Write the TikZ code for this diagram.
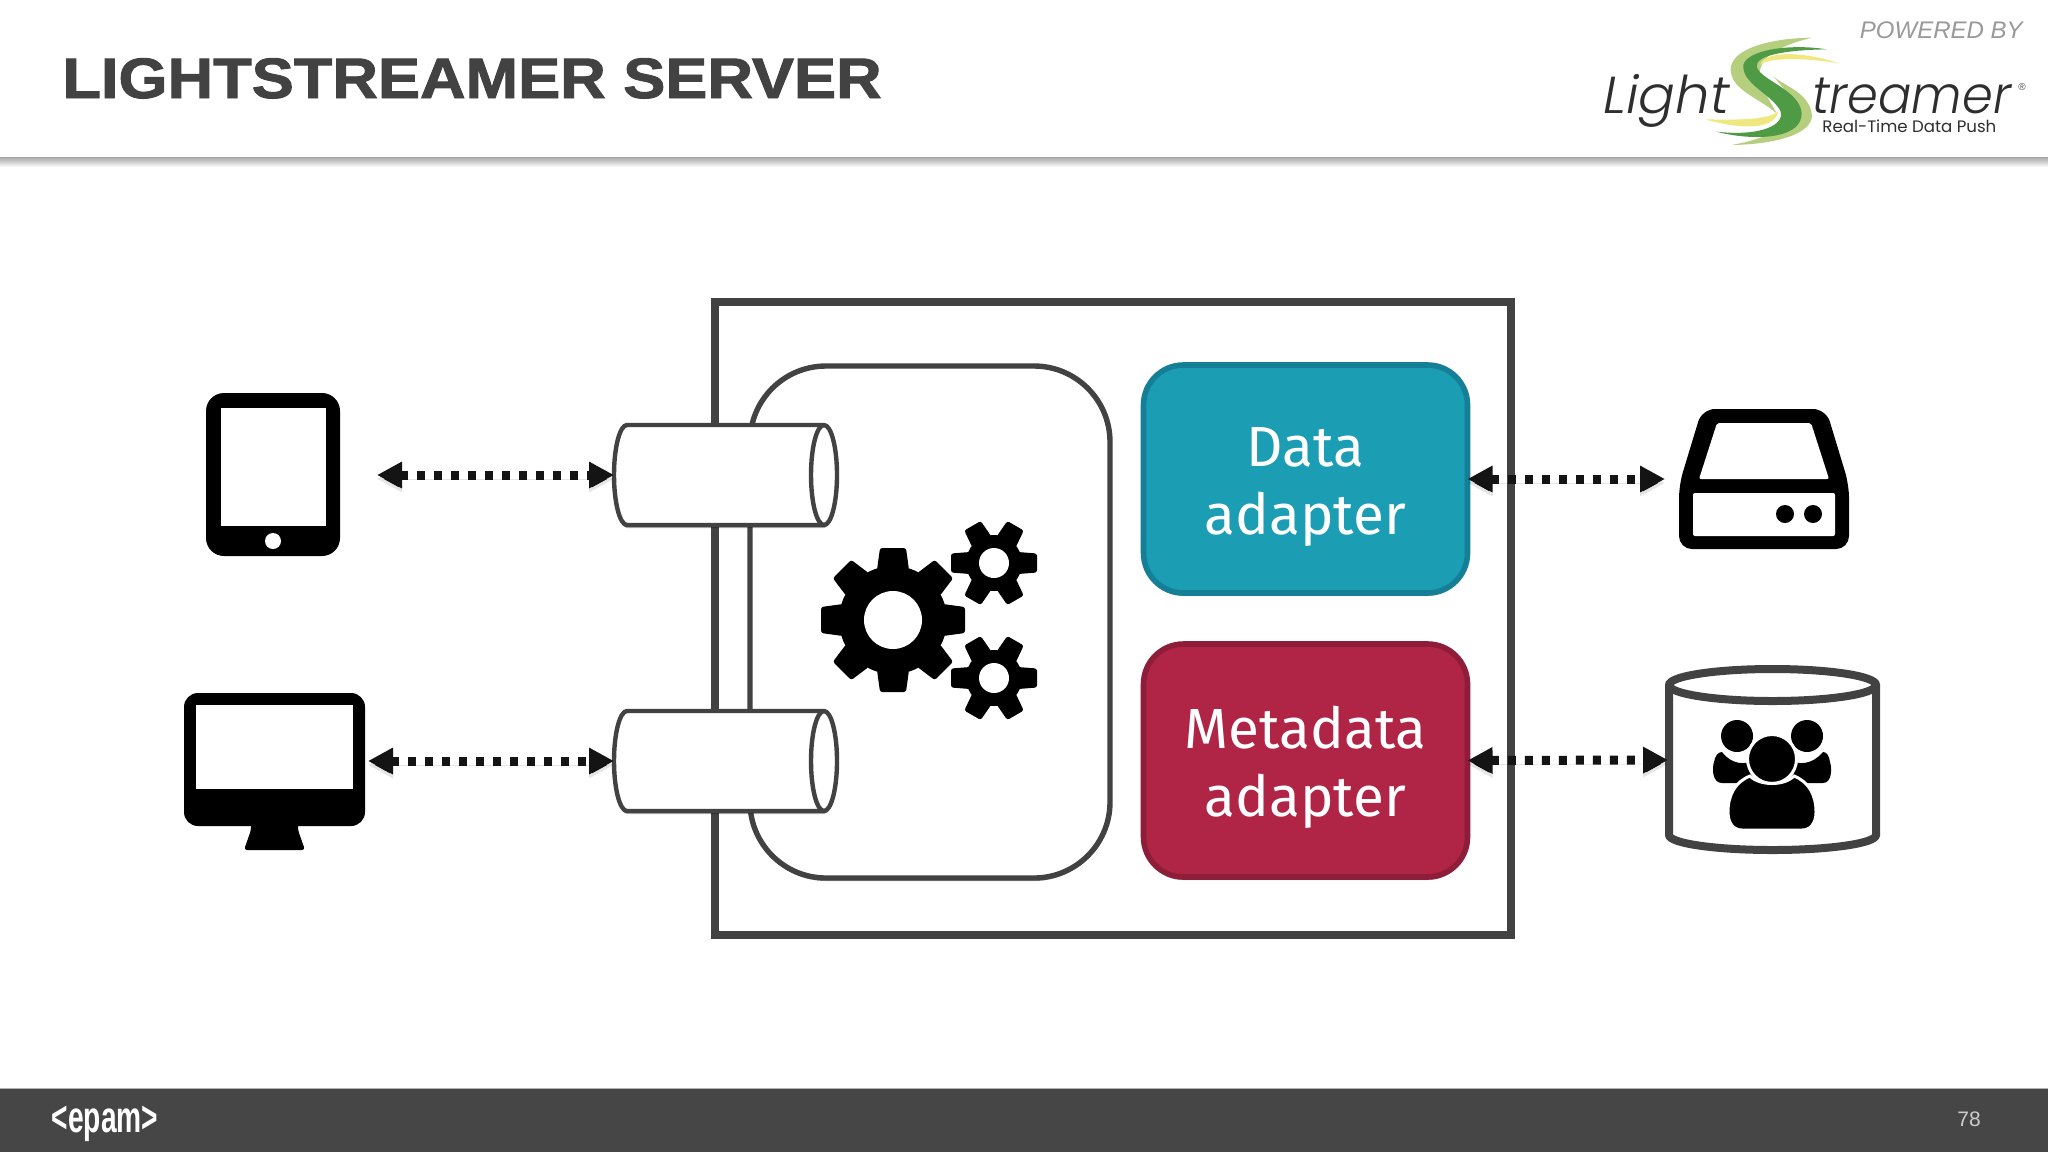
\documentclass[tikz,border=0pt]{standalone}
\usepackage{fontspec}
\setmainfont{Liberation Sans}
\newfontfamily\boxfont{Fira Sans}
\newfontfamily\titlefont{Liberation Sans Bold}[FakeBold=1.6]
\newfontfamily\logofont{Poppins Light}[ItalicFont={Poppins Light Italic}]
\newfontfamily\logosub{Poppins}
\usetikzlibrary{arrows.meta,shapes.geometric,shadows}
\definecolor{inkgrey}{HTML}{424242}
\definecolor{barGrey}{HTML}{464646}
\definecolor{teal}{HTML}{1B9DB4}
\definecolor{tealedge}{HTML}{147F96}
\definecolor{wine}{HTML}{B02445}
\definecolor{wineedge}{HTML}{8E1D3A}
\definecolor{arrowink}{HTML}{141414}
\definecolor{lgreen}{HTML}{B5CF7F}
\definecolor{dgreen}{HTML}{4E9A45}
\definecolor{lyellow}{HTML}{EEE87F}
\newcommand{\boxline}[1]{\smash{\raisebox{-10.8pt}{#1}}}
\tikzset{
  softshadow/.style={drop shadow={shadow xshift=0pt,shadow yshift=-1.5pt,opacity=.3,fill=black}},
  frame/.style={rectangle,draw=inkgrey,fill=white,outer sep=0pt,inner sep=0pt,softshadow},
  adapter/.style={rectangle,rounded corners=20pt,line width=2.8pt,outer sep=0pt,inner sep=0pt,
    minimum width=162pt,text=white,align=center,font=\boxfont\fontsize{28.3}{34}\selectfont,softshadow},
  pipebody/.style={draw=inkgrey,fill=white,line width=2.2pt,line join=round,softshadow},
  link/.style={draw=arrowink,line width=4.5pt,dash pattern=on 4pt off 4.5pt,
    {Triangle[length=12.5pt,width=12.5pt]}-{Triangle[length=12.5pt,width=12.5pt]},
    preaction={draw=black,draw opacity=.1,transform canvas={yshift=-2pt}}},
}
\newcommand{\cogwheel}[7]{%
  \begin{scope}[shift={(#1,#2)}]
    \fill[black] (0,0) circle[radius=#3];
    \foreach \a in \cogangles {
      \begin{scope}[rotate=\a]
        \fill[black,rounded corners=1.2pt] (#3-4,-#5) -- (#4,-#6) -- (#4,#6) -- (#3-4,#5) -- cycle;
      \end{scope}
    }
    \fill[white] (0,0) circle[radius=#7];
  \end{scope}
}
\newcommand{\pipedraw}[2]{% centre y, name of west coordinate
  \path[pipebody] (824,#1-50) -- (627,#1-50) arc[start angle=-90,end angle=-270,x radius=13,y radius=50]
    -- (824,#1+50) arc[start angle=90,end angle=-90,x radius=13,y radius=50] -- cycle;
  \draw[inkgrey,line width=2.2pt] (824,#1-50) arc[start angle=-90,end angle=-270,x radius=13,y radius=50];
  \coordinate (#2) at (614,#1);
}
\begin{document}
\begin{tikzpicture}[x=.5pt,y=-.5pt]
\useasboundingbox (0,0) rectangle (2048,1152);
\fill[white] (0,0) rectangle (2048,1152);
% header
\shade[top color=black!35,bottom color=white] (0,157) rectangle (2048,167);
\node[anchor=base west,inner sep=0pt,text=inkgrey,font=\titlefont\fontsize{28.5}{28.5}\selectfont,xscale=1.107] (title) at (62,98) {LIGHTSTREAMER SERVER};
\node[anchor=base east,inner sep=0pt,text=black!40,font=\itshape\fontsize{12}{12}\selectfont] (powered) at (2023,38) {POWERED BY};
% logo
\begin{scope}[shift={(1560,0)},x=.16667pt,y=-.16667pt]
  \fill[lgreen] (755,113) .. controls (620,115) and (510,150) .. (512,210) .. controls (515,270) and (590,290) .. (650,340) .. controls (600,250) and (530,170) .. (755,113) -- cycle;
  \fill[lgreen] (515,435) .. controls (650,433) and (765,400) .. (755,340) .. controls (745,280) and (680,260) .. (640,230) .. controls (700,290) and (760,390) .. (515,435) -- cycle;
  \fill[lyellow] (835,190) .. controls (740,155) and (610,150) .. (600,195) .. controls (615,175) and (720,170) .. (835,190) -- cycle;
  \fill[lyellow] (435,358) .. controls (530,385) and (640,395) .. (655,335) .. controls (620,360) and (530,360) .. (435,358) -- cycle;
  \fill[dgreen] (800,148) .. controls (690,130) and (560,150) .. (550,195) .. controls (545,250) and (630,280) .. (660,330) .. controls (680,375) and (600,410) .. (470,395) .. controls (560,420) and (725,425) .. (725,340) .. controls (720,270) and (600,240) .. (590,200) .. controls (585,165) and (680,150) .. (800,148) -- cycle;
\end{scope}
\node[anchor=base west,inner sep=0pt,text=black!82,font=\logofont\itshape\fontsize{26}{26}\selectfont,xscale=1.05] (logoa) at (1603,113) {Light};
\node[anchor=base west,inner sep=0pt,text=black!82,font=\logofont\itshape\fontsize{26}{26}\selectfont,xscale=.95] (logob) at (1812,113) {treamer};
\node[anchor=base west,inner sep=0pt,text=black!82,font=\logosub\fontsize{8.3}{8.3}\selectfont] (logoc) at (1822,132) {Real-Time Data Push};
\node[inner sep=0pt,text=black!70,font=\fontsize{5}{5}\selectfont] (logor) at (2022,87) {®};
% server
\node[frame,line width=3.6pt,minimum width=398pt,minimum height=316.5pt] (server) at (1113,618.5) {};
\node[frame,line width=2.7pt,rounded corners=38pt,minimum width=180pt,minimum height=256pt] (engine) at (930,622) {};
\node[adapter,fill=teal,draw=tealedge,minimum height=114pt] (data) at (1305.5,479) {\boxline{Data}\\\boxline{adapter}};
\node[adapter,fill=wine,draw=wineedge,minimum height=116.5pt] (meta) at (1305.5,760.5) {\boxline{Metadata}\\\boxline{adapter}};
\pipedraw{475}{pipea}
\pipedraw{761}{pipeb}
% gears
\def\cogangles{0,45,90,135,180,225,270,315}
\cogwheel{893}{620}{54}{72}{16}{13}{29}
\def\cogangles{0,60,120,180,240,300}
\cogwheel{994}{563}{28}{43}{11}{9.5}{15}
\cogwheel{994}{678}{28}{43}{11}{9.5}{15}
% tablet
\fill[black,rounded corners=9pt] (206,393) rectangle (340,556);
\fill[white] (221,408) rectangle (326,526);
\fill[white] (273,541) circle[radius=8];
\coordinate (tabletE) at (377,475);
% monitor
\fill[black,rounded corners=1.5pt] (251,820) -- (298,820) -- (298,830) -- (305,850) -- (244,850) -- (251,830) -- cycle;
\fill[black,rounded corners=7pt] (184,693) rectangle (365,826);
\fill[white] (196,705) rectangle (353,789);
\coordinate (monitorE) at (368,761);
% disk
\fill[black,rounded corners=6.5pt] (1679,549) -- (1849,549) -- (1849,485) -- (1826,409) -- (1702,409) -- (1679,485) -- cycle;
\fill[white,rounded corners=1pt] (1717,423) -- (1811,423) -- (1829,479) -- (1699,479) -- cycle;
\fill[white,rounded corners=1pt] (1693,493) rectangle (1835,536);
\fill[black] (1785,514) circle[radius=9];
\fill[black] (1813,514) circle[radius=9];
\coordinate (diskW) at (1665,479);
% database
\path[fill=white,draw=inkgrey,line width=4pt,softshadow] (1669,685) -- (1669,835) arc[start angle=180,end angle=0,x radius=103.5,y radius=15] -- (1876,685) arc[start angle=0,end angle=-180,x radius=103.5,y radius=16] -- cycle;
\draw[inkgrey,line width=4pt] (1669,685) arc[start angle=180,end angle=0,x radius=103.5,y radius=16];
\coordinate (dbW) at (1668,760);
% people
\fill[black] (1737,736) circle[radius=16];
\fill[black] (1807,736) circle[radius=16];
\fill[black] (1722,752) .. controls (1732,765) and (1745,765) .. (1755,760) -- (1762,783) -- (1722,783) .. controls (1712,783) and (1712,768) .. (1714,762) .. controls (1715,756) and (1718,752) .. (1722,752) -- cycle;
\fill[black] (1823,752) .. controls (1812,765) and (1799,765) .. (1789,760) -- (1782,783) -- (1823,783) .. controls (1832,783) and (1832,768) .. (1830,762) .. controls (1829,756) and (1827,752) .. (1823,752) -- cycle;
\draw[fill=black,draw=white,line width=1.5pt] (1772,759) circle[radius=24.5];
\path[fill=black,draw=white,line width=1.5pt] (1728,812) .. controls (1728,795) and (1735,782) .. (1750,776) .. controls (1760,786) and (1784,786) .. (1794,776) .. controls (1809,782) and (1816,795) .. (1816,812) .. controls (1816,824) and (1810,830) .. (1802,830) -- (1742,830) .. controls (1734,830) and (1728,824) .. (1728,812) -- cycle;
% connectors
\draw[link] (tabletE) -- (pipea);
\draw[link] (monitorE) -- (pipeb);
\draw[link] (data.east) -- (diskW);
\draw[link] (meta.east) -- (dbW);
% footer
\fill[barGrey] (0,1088) rectangle (2048,1152);
\draw[black!30,line width=.5pt] (0,1088) -- (2048,1088);
\node[inner sep=0pt,text=white,font=\bfseries\fontsize{22}{22}\selectfont,xscale=.64] (epam) at (105,1124) {<epam>};
\node[inner sep=0pt,text=black!20,font=\fontsize{10.5}{10.5}\selectfont] (page) at (1969,1119) {78};
\end{tikzpicture}
\end{document}
